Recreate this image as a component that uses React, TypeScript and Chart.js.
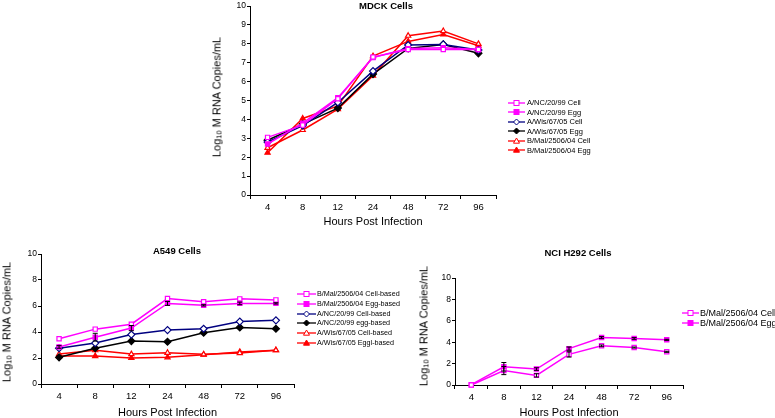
import React, { useEffect, useRef } from "react";
import { Chart, registerables } from "chart.js";
Chart.register(...registerables);

const FONT = "'Liberation Sans', Arial, sans-serif";
Chart.defaults.font.family = FONT;
Chart.defaults.color = "#000";

const hours = ["4", "8", "12", "24", "48", "72", "96"];

// MDCK cells
const mdckNcCell = [3.05, 3.7, 5.1, 7.3, 7.7, 7.7, 7.7];
const mdckNcEgg = [2.7, 3.8, 5.15, 7.28, 7.75, 7.8, 7.7];
const mdckWisCell = [2.8, 3.67, 4.9, 6.56, 7.94, 7.97, 7.67];
const mdckWisEgg = [2.9, 3.75, 4.6, 6.4, 7.76, 7.97, 7.5];
const mdckMalCell = [2.5, 3.44, 4.55, 6.32, 8.43, 8.68, 8.0];
const mdckMalEgg = [2.24, 4.05, 4.72, 7.35, 8.13, 8.5, 7.9];

// A549 cells
const a549MalCell = [3.48, 4.22, 4.6, 6.57, 6.32, 6.55, 6.47];
const a549MalEgg = [2.85, 3.6, 4.3, 6.2, 6.05, 6.2, 6.2];
const a549MalEggErr = [0.1, 0.3, 0.2, 0.15, 0.05, 0.1, 0.05];
const a549NcCell = [2.75, 3.15, 3.8, 4.15, 4.25, 4.8, 4.9];
const a549NcEgg = [2.05, 2.75, 3.3, 3.25, 3.95, 4.35, 4.25];
const a549WisCell = [2.3, 2.6, 2.3, 2.4, 2.28, 2.38, 2.6];
const a549WisEgg = [2.15, 2.15, 2.0, 2.05, 2.25, 2.47, 2.6];

// NCI H292 cells
const nciMalCell = [0, 1.35, 0.9, 2.86, 3.66, 3.5, 3.1];
const nciMalCellErr = [0, 0.38, 0.15, 0.25, 0.08, 0.05, 0.05];
const nciMalEgg = [0.03, 1.7, 1.49, 3.4, 4.44, 4.35, 4.22];
const nciMalEggErr = [0, 0.4, 0.12, 0.15, 0.08, 0.08, 0.05];

const MAG = "#FF00FF";
const NAVY = "#000080";
const BLK = "#000000";
const RED = "#FF0000";

type Series = {
  label: string;
  data: number[];
  color: string;
  style: "rect" | "rectRot" | "triangle";
  filled: boolean;
  errors?: number[];
};

const mdckSeries: Series[] = [
  { label: "A/NC/20/99 Cell", data: mdckNcCell, color: MAG, style: "rect", filled: false },
  { label: "A/NC/20/99 Egg", data: mdckNcEgg, color: MAG, style: "rect", filled: true },
  { label: "A/Wis/67/05 Cell", data: mdckWisCell, color: NAVY, style: "rectRot", filled: false },
  { label: "A/Wis/67/05 Egg", data: mdckWisEgg, color: BLK, style: "rectRot", filled: true },
  { label: "B/Mal/2506/04 Cell", data: mdckMalCell, color: RED, style: "triangle", filled: false },
  { label: "B/Mal/2506/04 Egg", data: mdckMalEgg, color: RED, style: "triangle", filled: true },
];

const a549Series: Series[] = [
  { label: "B/Mal/2506/04 Cell-based", data: a549MalCell, color: MAG, style: "rect", filled: false },
  { label: "B/Mal/2506/04 Egg-based", data: a549MalEgg, color: MAG, style: "rect", filled: true, errors: a549MalEggErr },
  { label: "A/NC/20/99 Cell-based", data: a549NcCell, color: NAVY, style: "rectRot", filled: false },
  { label: "A/NC/20/99 egg-based", data: a549NcEgg, color: BLK, style: "rectRot", filled: true },
  { label: "A/Wis/67/05 Cell-based", data: a549WisCell, color: RED, style: "triangle", filled: false },
  { label: "A/Wis/67/05 Eggl-based", data: a549WisEgg, color: RED, style: "triangle", filled: true },
];

const nciSeries: Series[] = [
  { label: "B/Mal/2506/04 Cell", data: nciMalCell, color: MAG, style: "rect", filled: false, errors: nciMalCellErr },
  { label: "B/Mal/2506/04 Egg", data: nciMalEgg, color: MAG, style: "rect", filled: true, errors: nciMalEggErr },
];

const errorBarPlugin = {
  id: "errbars",
  afterDatasetsDraw(chart: any) {
    const ctx = chart.ctx;
    const ys = chart.scales.y;
    chart.data.datasets.forEach((ds: any, i: number) => {
      if (!ds.errors) return;
      const meta = chart.getDatasetMeta(i);
      meta.data.forEach((pt: any, j: number) => {
        const e = ds.errors[j];
        if (!e) return;
        const v = ds.data[j];
        const y1 = ys.getPixelForValue(v - e);
        const y2 = ys.getPixelForValue(v + e);
        ctx.save();
        ctx.strokeStyle = "#000";
        ctx.lineWidth = 1;
        ctx.beginPath();
        ctx.moveTo(pt.x, y1);
        ctx.lineTo(pt.x, y2);
        ctx.moveTo(pt.x - 2.5, y1);
        ctx.lineTo(pt.x + 2.5, y1);
        ctx.moveTo(pt.x - 2.5, y2);
        ctx.lineTo(pt.x + 2.5, y2);
        ctx.stroke();
        ctx.restore();
      });
    });
  },
};

type ChartProps = {
  left: number;
  top: number;
  width: number;
  height: number;
  series: Series[];
  yWidth: number;
  xHeight: number;
  padTop: number;
  padRight: number;
};

function LineChart(p: ChartProps) {
  const ref = useRef<HTMLCanvasElement>(null);
  useEffect(() => {
    const chart = new Chart(ref.current as HTMLCanvasElement, {
      type: "line",
      data: {
        labels: hours,
        datasets: p.series.map((s) => ({
          label: s.label,
          data: s.data,
          borderColor: s.color,
          backgroundColor: s.filled ? s.color : "#fff",
          pointBackgroundColor: s.filled ? s.color : "#fff",
          pointBorderColor: s.color,
          pointStyle: s.style,
          pointRadius: s.style === "rectRot" ? 3.5 : 3,
          pointBorderWidth: 1.2,
          borderWidth: 1.5,
          tension: 0,
          clip: false,
          errors: s.errors,
        })) as any,
      },
      options: {
        responsive: false,
        animation: false,
        devicePixelRatio: 1,
        layout: { padding: { top: p.padTop, right: p.padRight, left: 0, bottom: 0 } },
        plugins: {
          legend: { display: false },
          tooltip: { enabled: false },
          title: { display: false },
        },
        scales: {
          x: {
            type: "category",
            offset: true,
            grid: {
              offset: true,
              drawOnChartArea: false,
              drawTicks: true,
              tickLength: 4,
              color: "#000",
            },
            border: { display: true, color: "#000", width: 1 },
            ticks: { font: { size: 9.5 }, color: "#000", padding: 3, maxRotation: 0 },
            title: {
              display: true,
              text: "Hours Post Infection",
              font: { size: 11 },
              color: "#000",
              padding: 0,
            },
            afterFit: (s: any) => {
              s.height = p.xHeight;
            },
          },
          y: {
            min: 0,
            max: 10,
            ticks: { stepSize: 1, font: { size: 8.5 }, color: "#000", padding: 1 },
            grid: {
              drawOnChartArea: false,
              drawTicks: true,
              tickLength: 3,
              color: "#000",
            },
            border: { display: true, color: "#000", width: 1 },
            afterFit: (s: any) => {
              s.width = p.yWidth;
            },
          },
        },
      } as any,
      plugins: [errorBarPlugin],
    });
    return () => chart.destroy();
  }, []);
  return (
    <canvas
      ref={ref}
      width={p.width}
      height={p.height}
      style={{ position: "absolute", left: p.left, top: p.top, width: p.width, height: p.height }}
    />
  );
}

function Marker({ color, style, filled, w }: { color: string; style: string; filled: boolean; w: number }) {
  const cx = w / 2;
  const cy = 5;
  const fill = filled ? color : "#fff";
  let shape;
  if (style === "rect") {
    shape = <rect x={cx - 2.5} y={cy - 2.5} width={5} height={5} fill={fill} stroke={color} strokeWidth={1} />;
  } else if (style === "rectRot") {
    shape = (
      <polygon
        points={`${cx},${cy - 3} ${cx + 3},${cy} ${cx},${cy + 3} ${cx - 3},${cy}`}
        fill={fill}
        stroke={color}
        strokeWidth={1}
      />
    );
  } else {
    shape = (
      <polygon
        points={`${cx},${cy - 3} ${cx + 3},${cy + 2.2} ${cx - 3},${cy + 2.2}`}
        fill={fill}
        stroke={color}
        strokeWidth={1}
      />
    );
  }
  return (
    <svg width={w} height={10} style={{ display: "block", flex: "none" }}>
      <line x1={0} y1={cy} x2={w} y2={cy} stroke={color} strokeWidth={1.3} />
      {shape}
    </svg>
  );
}

function Legend({
  left,
  top,
  rowH,
  font,
  lineW,
  gap,
  series,
}: {
  left: number;
  top: number;
  rowH: number;
  font: number;
  lineW: number;
  gap: number;
  series: Series[];
}) {
  return (
    <div style={{ position: "absolute", left, top, fontSize: font, fontFamily: FONT, whiteSpace: "nowrap", color: "#000" }}>
      {series.map((s) => (
        <div key={s.label} style={{ display: "flex", alignItems: "center", height: rowH }}>
          <Marker color={s.color} style={s.style} filled={s.filled} w={lineW} />
          <span style={{ marginLeft: gap, lineHeight: rowH + "px" }}>{s.label}</span>
        </div>
      ))}
    </div>
  );
}

function Title({ x, y, text }: { x: number; y: number; text: string }) {
  return (
    <div
      style={{
        position: "absolute",
        left: x,
        top: y,
        transform: "translate(-50%, -50%)",
        fontWeight: "bold",
        fontSize: 9.5,
        fontFamily: FONT,
        whiteSpace: "nowrap",
        lineHeight: "12px",
      }}
    >
      {text}
    </div>
  );
}

function YTitle({ x, y }: { x: number; y: number }) {
  return (
    <div
      style={{
        position: "absolute",
        left: x,
        top: y,
        transform: "translate(-50%, -50%) rotate(-90deg)",
        fontSize: 11,
        fontFamily: FONT,
        whiteSpace: "nowrap",
        lineHeight: "13px",
      }}
    >
      Log<span style={{ fontSize: 7.5, verticalAlign: "-1px" }}>10</span> M RNA Copies/mL
    </div>
  );
}

export default function App() {
  return (
    <div
      style={{
        position: "fixed",
        left: 0,
        top: 0,
        width: 775,
        height: 418,
        overflow: "hidden",
        background: "#fff",
        fontFamily: FONT,
      }}
    >
      <LineChart left={200} top={0} width={310} height={229} series={mdckSeries} yWidth={50} xHeight={34} padTop={6} padRight={14} />
      <Title x={386} y={6} text="MDCK Cells" />
      <YTitle x={218} y={97} />
      <Legend left={508} top={98} rowH={9.5} font={7.5} lineW={17} gap={2} series={mdckSeries} />

      <LineChart left={0} top={244} width={300} height={176} series={a549Series} yWidth={41} xHeight={36} padTop={10} padRight={6} />
      <Title x={177} y={251} text="A549 Cells" />
      <YTitle x={8} y={322} />
      <Legend left={297} top={289} rowH={9.8} font={7.2} lineW={19} gap={1} series={a549Series} />

      <LineChart left={400} top={270} width={290} height={150} series={nciSeries} yWidth={55} xHeight={35} padTop={8} padRight={7} />
      <Title x={578} y={253} text="NCI H292 Cells" />
      <YTitle x={424.5} y={326} />
      <Legend left={682} top={307.5} rowH={10.3} font={9} lineW={17} gap={1} series={nciSeries} />
    </div>
  );
}
